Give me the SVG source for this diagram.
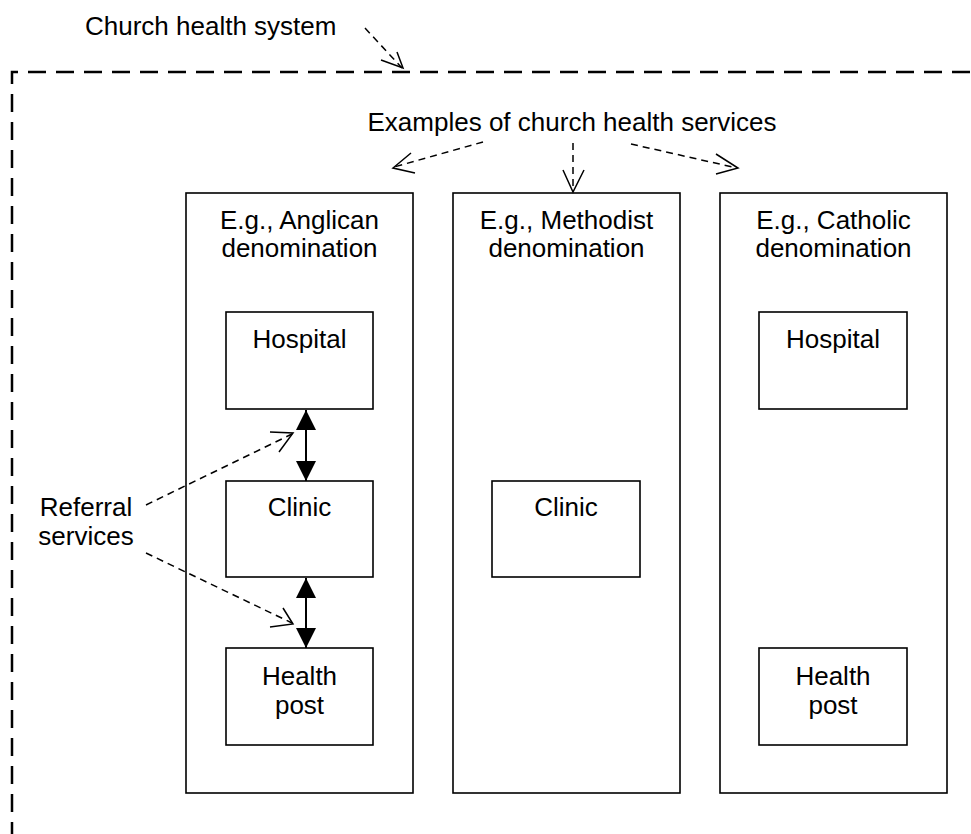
<svg xmlns="http://www.w3.org/2000/svg" width="971" height="834" viewBox="0 0 971 834">
<defs>
<style>
text{font-family:"Liberation Sans",Arial,sans-serif;font-size:26px;fill:#000}
.c{text-anchor:middle}
.box{fill:#fff;stroke:#000;stroke-width:1.6}
.sys{fill:none;stroke:#000;stroke-width:2.5;stroke-dasharray:18 10}
.dash{fill:none;stroke:#000;stroke-width:1.5;stroke-dasharray:7 5}
.head{fill:none;stroke:#000;stroke-width:1.5}
.ref{stroke:#000;stroke-width:2}
</style>
<marker id="tri" markerUnits="userSpaceOnUse" markerWidth="22" markerHeight="22" refX="20" refY="10" orient="auto">
<path d="M0,0 L20,10 L0,20 Z" fill="#000"/>
</marker>
</defs>
<rect width="971" height="834" fill="#fff"/>
<g id="system">
<path class="sys" d="M12,840 L12,72 L980,72"/>
</g>
<g id="labels">
<text x="85" y="35">Church health system</text>
<text x="572" y="131" class="c">Examples of church health services</text>
<text x="86" y="516" class="c">Referral</text>
<text x="86" y="545" class="c">services</text>
</g>
<g id="anglican">
<rect class="box" x="186" y="193" width="227" height="600"/>
<text x="299.5" y="229" class="c">E.g., Anglican</text>
<text x="299.5" y="257" class="c">denomination</text>
</g>
<g id="anglican-hospital">
<rect class="box" x="226" y="312" width="147" height="97"/>
<text x="299.5" y="348" class="c">Hospital</text>
</g>
<g id="anglican-clinic">
<rect class="box" x="226" y="481" width="147" height="96"/>
<text x="299.5" y="516" class="c">Clinic</text>
</g>
<g id="anglican-healthpost">
<rect class="box" x="226" y="648" width="147" height="97"/>
<text x="299.5" y="685" class="c">Health</text>
<text x="299.5" y="714" class="c">post</text>
</g>
<g id="methodist">
<rect class="box" x="453" y="193" width="227" height="600"/>
<text x="566.5" y="229" class="c">E.g., Methodist</text>
<text x="566.5" y="257" class="c">denomination</text>
</g>
<g id="methodist-clinic">
<rect class="box" x="492" y="481" width="148" height="96"/>
<text x="566" y="516" class="c">Clinic</text>
</g>
<g id="catholic">
<rect class="box" x="720" y="193" width="227" height="600"/>
<text x="833.5" y="229" class="c">E.g., Catholic</text>
<text x="833.5" y="257" class="c">denomination</text>
</g>
<g id="catholic-hospital">
<rect class="box" x="759" y="312" width="148" height="97"/>
<text x="833" y="348" class="c">Hospital</text>
</g>
<g id="catholic-healthpost">
<rect class="box" x="759" y="648" width="148" height="97"/>
<text x="833" y="685" class="c">Health</text>
<text x="833" y="714" class="c">post</text>
</g>
<g id="connectors">
<line class="dash" x1="365" y1="28" x2="402" y2="68"/>
<path class="head" d="M381,60 L403,68 L397,52"/>
<line class="dash" x1="483" y1="142" x2="394" y2="167"/>
<path class="head" d="M411,153 L393,168 L415,173"/>
<line class="dash" x1="573" y1="143" x2="573" y2="191"/>
<path class="head" d="M563,170 L573,192 L584,170"/>
<line class="dash" x1="631" y1="144" x2="737" y2="168"/>
<path class="head" d="M716,154 L738,168 L716,174"/>
<line class="dash" x1="146" y1="505" x2="292" y2="434"/>
<path class="head" d="M270,432 L293,433 L279,452"/>
<line class="dash" x1="146" y1="553" x2="292" y2="623"/>
<path class="head" d="M283,608 L293,624 L270,627"/>
<line class="ref" x1="306" y1="460" x2="306" y2="410" marker-end="url(#tri)"/>
<line class="ref" x1="306" y1="429" x2="306" y2="481" marker-end="url(#tri)"/>
<line class="ref" x1="306" y1="628" x2="306" y2="578" marker-end="url(#tri)"/>
<line class="ref" x1="306" y1="598" x2="306" y2="648" marker-end="url(#tri)"/>
</g>
</svg>
